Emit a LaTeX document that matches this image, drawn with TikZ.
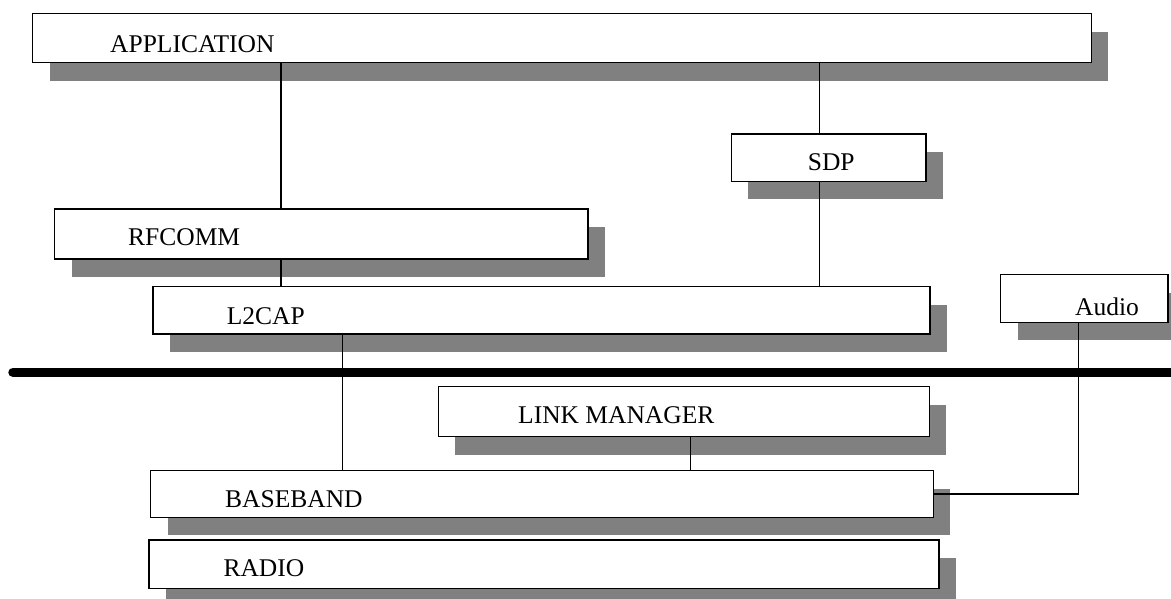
\documentclass[tikz,border=0pt]{standalone}
\usepackage{fontspec}
\setmainfont{Liberation Serif}
\usetikzlibrary{shadows}
\definecolor{shadowgray}{HTML}{808080}
\tikzset{
  layer/.style={draw=black, line width=1.4pt, fill=white, inner sep=0pt,
    anchor=north west,
    drop shadow={shadow xshift=17pt, shadow yshift=-18pt, fill=shadowgray, opacity=1}},
  lbl/.style={anchor=base west, inner sep=0pt, font=\fontsize{25.5}{30}\selectfont},
  conn/.style={draw=black, line width=1.3pt},
  bus/.style={draw=black, line width=9.5pt, line cap=round}
}
\begin{document}
\begin{tikzpicture}[x=1pt,y=-1pt]
\useasboundingbox (0,0) rectangle (1171,599);
\clip (0,0) rectangle (1171,599);
% layers
\node[layer, minimum width=1058.7pt, minimum height=49pt] (app) at (32,13) {};
\node[layer, minimum width=194.6pt, minimum height=47.4pt] (sdp) at (730.7,133.3) {};
\node[layer, minimum width=533.3pt, minimum height=50pt] (rfcomm) at (54,208.3) {};
\node[layer, minimum width=777pt, minimum height=47.3pt] (l2cap) at (152.3,286) {};
\node[layer, minimum width=167.3pt, minimum height=47.7pt] (audio) at (1000,274) {};
\node[layer, minimum width=491.1pt, minimum height=50pt] (lm) at (437.5,386) {};
\node[layer, minimum width=782.7pt, minimum height=46.7pt] (bb) at (150,470) {};
\node[layer, minimum width=790pt, minimum height=48.4pt] (radio) at (148.3,539.3) {};
% labels
\node[lbl] (tapp) at (110,53) {APPLICATION};
\node[lbl] (tsdp) at (807.7,171) {SDP};
\node[lbl] (trf) at (128,245) {RFCOMM};
\node[lbl] (tl2) at (226.7,324) {L2CAP};
\node[lbl] (taud) at (1075,315) {Audio};
\node[lbl] (tlm) at (518,423.5) {LINK MANAGER};
\node[lbl] (tbb) at (225,507.3) {BASEBAND};
\node[lbl] (trad) at (223.3,576.7) {RADIO};
% connector columns
\coordinate (c1) at (281,0);
\coordinate (c2) at (819.3,0);
\coordinate (c3) at (342.3,0);
\coordinate (c4) at (690.5,0);
\coordinate (c5) at (1078.3,0);
% bus
\coordinate (busL) at (13,372.3);
\coordinate (busR) at (1180,372.3);
\draw[bus] (busL) -- (busR);
% connectors
\draw[conn] (app.south -| c1) -- (rfcomm.north -| c1);
\draw[conn] (rfcomm.south -| c1) -- (l2cap.north -| c1);
\draw[conn] (app.south -| c2) -- (sdp.north -| c2);
\draw[conn] (sdp.south -| c2) -- (l2cap.north -| c2);
\draw[conn] (l2cap.south -| c3) -- (bb.north -| c3);
\draw[conn] (lm.south -| c4) -- (bb.north -| c4);
\draw[conn] (audio.south -| c5) |- (bb.east);
\end{tikzpicture}
\end{document}
